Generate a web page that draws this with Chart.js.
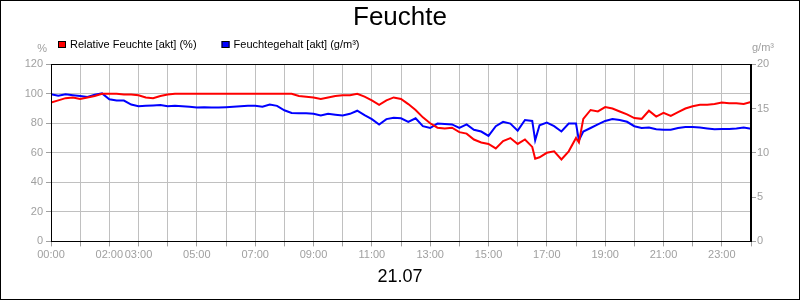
<!DOCTYPE html>
<html>
<head>
<meta charset="utf-8">
<title>Feuchte</title>
<style>
  body { margin: 0; background: #fff; }
  #wrap { width: 800px; height: 300px; }
</style>
</head>
<body>
<div id="wrap"><canvas id="feuchte"></canvas></div>

<script src="https://cdn.jsdelivr.net/npm/chart.js@4/dist/chart.umd.min.js"></script>
<script>

// time of day in hours (15 min steps, plus two extra samples at the sharp dips)
const times = [
  0, 0.25, 0.5, 0.75,   1, 1.25, 1.5, 1.75,   2, 2.25, 2.5, 2.75,
  3, 3.25, 3.5, 3.75,   4, 4.25, 4.5, 4.75,   5, 5.25, 5.5, 5.75,
  6, 6.25, 6.5, 6.75,   7, 7.25, 7.5, 7.75,   8, 8.25, 8.5, 8.75,
  9, 9.25, 9.5, 9.75,   10, 10.25, 10.5, 10.75, 11, 11.25, 11.5, 11.75,
  12, 12.25, 12.5, 12.75, 13, 13.25, 13.5, 13.75, 14, 14.25, 14.5, 14.75,
  15, 15.25, 15.5, 15.75, 16, 16.25, 16.5, 16.6, 16.75, 17, 17.25, 17.5, 17.75,
  18, 18.1, 18.25, 18.5, 18.75, 19, 19.25, 19.5, 19.75, 20, 20.25, 20.5, 20.75,
  21, 21.25, 21.5, 21.75, 22, 22.25, 22.5, 22.75, 23, 23.25, 23.5, 23.75,
  24
];

// Relative Feuchte [akt] (%)
const relFeuchte = [
  94, 95.5, 97, 97.5,   96.5, 97.5, 98.5, 100,   100, 100, 99.5, 99.5,
  99, 97.5, 97, 98.5,   99.5, 100, 100, 100,     100, 100, 100, 100,
  100, 100, 100, 100,   100, 100, 100, 100,     100, 100, 98.5, 98,
  97.5, 96.5, 97.5, 98.5, 99, 99, 100, 98,     95.5, 92.5, 95.5, 97.5,
  96.5, 93, 89, 84,     80, 77, 76.5, 77,       74, 73, 69, 67,
  66, 63, 68, 70,       66, 69, 64, 56, 57,     60, 61, 55.5, 61,
  70, 67, 83, 89, 88,   91, 90, 88, 86,         83.5, 83, 88.5, 84.5,
  87, 85, 87.5, 90,     91.5, 92.5, 92.5, 93,   94, 93.5, 93.5, 93,
  94.5
];

// Feuchtegehalt [akt] (g/m³)
const feuchteGehalt = [
  16.6, 16.45, 16.6, 16.5,   16.4, 16.3, 16.55, 16.7,   16.05, 15.9, 15.9, 15.45,
  15.25, 15.3, 15.35, 15.4,  15.25, 15.3, 15.25, 15.2,  15.1, 15.15, 15.1, 15.1,
  15.15, 15.2, 15.25, 15.3,  15.3, 15.2, 15.45, 15.3,   14.8, 14.5, 14.45, 14.45,
  14.4, 14.2, 14.4, 14.3,    14.2, 14.4, 14.75, 14.25,  13.8, 13.2, 13.8, 13.95,
  13.9, 13.5, 13.9, 13.0,    12.8, 13.3, 13.25, 13.2,   12.8, 13.2, 12.6, 12.4,
  11.9, 13.0, 13.5, 13.3,    12.5, 13.7, 13.6, 11.4, 13.1, 13.4, 13.0, 12.4, 13.3,
  13.3, 11.4, 12.4, 12.8, 13.2, 13.6, 13.8, 13.7, 13.5,  13.0, 12.8, 12.85, 12.65,
  12.6, 12.6, 12.8, 12.9,    12.9, 12.85, 12.75, 12.65, 12.7, 12.7, 12.75, 12.85,
  12.7
];

// hours that get a label on the x axis
const labelHours = [0, 2, 3, 5, 7, 9, 11, 13, 15, 17, 19, 21, 23];

const tickGrey = '#a0a0a0';
const gridGrey = '#c0c0c0';
const fontName = '"Liberation Sans", Arial, sans-serif';

Chart.defaults.font.family = fontName;
Chart.defaults.font.size = 11;

// frame, chart area box, legend and unit labels
const rahmen = {
  id: 'rahmen',
  afterDraw(chart) {
    const ctx = chart.ctx;
    const a = chart.chartArea;
    ctx.save();
    ctx.strokeStyle = '#000';
    ctx.lineWidth = 1;
    ctx.strokeRect(0.5, 0.5, chart.width - 1, chart.height - 1);
    ctx.strokeRect(Math.round(a.left) + 0.5, Math.round(a.top) + 0.5,
                   Math.round(a.right - a.left) - 1, Math.round(a.bottom - a.top));

    ctx.font = '11px ' + fontName;
    ctx.textBaseline = 'middle';

    // legend
    let x = 58;
    chart.data.datasets.forEach(ds => {
      ctx.fillStyle = ds.borderColor;
      ctx.fillRect(x, 41, 8, 7);
      ctx.strokeStyle = '#000';
      ctx.strokeRect(x + 0.5, 41.5, 7, 6);
      ctx.fillStyle = '#000';
      ctx.textAlign = 'left';
      ctx.fillText(ds.label, x + 12, 45);
      x += 12 + ctx.measureText(ds.label).width + 25;
    });

    // units
    ctx.fillStyle = tickGrey;
    ctx.textAlign = 'right';
    ctx.fillText('%', a.left - 4, 49);
    ctx.textAlign = 'left';
    ctx.fillText('g/m³', a.right + 1, 48);
    ctx.restore();
  }
};

function pad(h) {
  return (h < 10 ? '0' : '') + h + ':00';
}

new Chart(document.getElementById('feuchte'), {
  type: 'line',
  data: {
    datasets: [
      {
        label: 'Relative Feuchte [akt] (%)',
        data: times.map((t, i) => ({ x: t, y: relFeuchte[i] })),
        yAxisID: 'y',
        borderColor: '#ff0000',
        backgroundColor: '#ff0000',
        borderWidth: 2,
        pointRadius: 0,
        tension: 0,
      },
      {
        label: 'Feuchtegehalt [akt] (g/m³)',
        data: times.map((t, i) => ({ x: t, y: feuchteGehalt[i] })),
        yAxisID: 'y1',
        borderColor: '#0000ff',
        backgroundColor: '#0000ff',
        borderWidth: 2,
        pointRadius: 0,
        tension: 0,
      }
    ]
  },
  options: {
    responsive: true,
    maintainAspectRatio: false,
    animation: false,
    layout: { padding: 0 },
    plugins: {
      legend: { display: false },
      tooltip: { enabled: false },
      title: {
        display: true,
        text: 'Feuchte',
        color: '#000',
        font: { size: 26, weight: 'normal' },
        padding: { top: 2, bottom: 31 },
      },
      subtitle: {
        display: true,
        position: 'bottom',
        text: '21.07',
        color: '#000',
        font: { size: 18, weight: 'normal' },
        padding: { top: 1, bottom: 12 },
      }
    },
    scales: {
      x: {
        type: 'linear',
        min: 0,
        max: 24,
        afterFit: s => { s.height = 24; },
        ticks: {
          stepSize: 1,
          autoSkip: false,
          maxRotation: 0,
          padding: 2,
          color: tickGrey,
          callback: v => labelHours.includes(v) ? pad(v) : '',
        },
        grid: { color: gridGrey, tickColor: tickGrey, tickLength: 5 },
        border: { color: '#000' },
      },
      y: {
        type: 'linear',
        position: 'left',
        min: 0,
        max: 120,
        afterFit: s => { s.width = 51; },
        ticks: { stepSize: 20, color: tickGrey, padding: 3 },
        grid: { color: gridGrey, tickColor: tickGrey, tickLength: 5 },
        border: { color: '#000' },
      },
      y1: {
        type: 'linear',
        position: 'right',
        min: 0,
        max: 20,
        afterFit: s => { s.width = 49; },
        ticks: { stepSize: 5, color: tickGrey, padding: 1 },
        grid: { drawOnChartArea: false, tickColor: tickGrey, tickLength: 5 },
        border: { color: '#000' },
      }
    }
  },
  plugins: [rahmen]
});

</script>
</body>
</html>
